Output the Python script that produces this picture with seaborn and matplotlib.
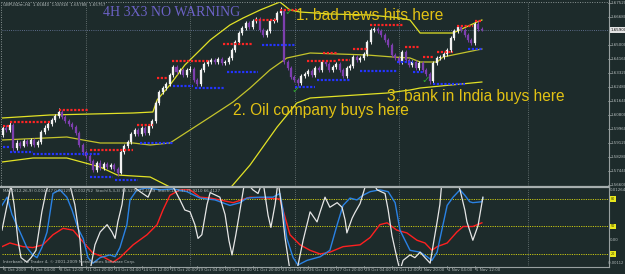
import numpy as np
import pandas as pd
import matplotlib
matplotlib.use("Agg")
import matplotlib.pyplot as plt
import matplotlib.transforms as mtransforms
from matplotlib.lines import Line2D
import seaborn as sns

# ---------------- data ----------------
first_open = 1.5960
closes = [1.6002, 1.5990, 1.6020, 1.5882, 1.5912, 1.5894, 1.5924, 1.5906, 1.5930, 1.5900,
          1.5918, 1.5978, 1.6002, 1.6026, 1.6050, 1.6074, 1.6098, 1.6068, 1.6044, 1.6026,
          1.6008, 1.5972, 1.5900, 1.5858, 1.5834, 1.5804, 1.5750, 1.5792, 1.5762, 1.5786,
          1.5768, 1.5780, 1.5756, 1.5732, 1.5858, 1.5894, 1.5918, 1.5966, 1.5990, 1.5966,
          1.6002, 1.5972, 1.6014, 1.6044, 1.6152, 1.6218, 1.6242, 1.6266, 1.6320, 1.6368,
          1.6338, 1.6350, 1.6320, 1.6350, 1.6356, 1.6290, 1.6266, 1.6350, 1.6386, 1.6398,
          1.6410, 1.6398, 1.6416, 1.6392, 1.6398, 1.6422, 1.6470, 1.6518, 1.6572, 1.6602,
          1.6632, 1.6608, 1.6644, 1.6656, 1.6590, 1.6560, 1.6584, 1.6644, 1.6650, 1.6692,
          1.6704, 1.6398, 1.6362, 1.6308, 1.6290, 1.6272, 1.6314, 1.6326, 1.6344, 1.6320,
          1.6362, 1.6350, 1.6398, 1.6386, 1.6350, 1.6368, 1.6386, 1.6350, 1.6314, 1.6362,
          1.6374, 1.6428, 1.6410, 1.6422, 1.6446, 1.6518, 1.6590, 1.6596, 1.6584, 1.6560,
          1.6530, 1.6500, 1.6440, 1.6422, 1.6398, 1.6458, 1.6410, 1.6380, 1.6398, 1.6362,
          1.6392, 1.6350, 1.6326, 1.6284, 1.6392, 1.6422, 1.6428, 1.6446, 1.6470, 1.6542,
          1.6584, 1.6608, 1.6590, 1.6560, 1.6530, 1.6512, 1.6626, 1.6596, 1.6590]
highs = [1.6020, 1.6020, 1.6038, 1.6032, 1.5930, 1.5924, 1.5936, 1.5936, 1.5942, 1.5942,
         1.5930, 1.5990, 1.6020, 1.6038, 1.6062, 1.6086, 1.6122, 1.6110, 1.6080, 1.6056,
         1.6038, 1.6020, 1.5984, 1.5912, 1.5870, 1.5846, 1.5816, 1.5804, 1.5810, 1.5798,
         1.5798, 1.5792, 1.5792, 1.5768, 1.5870, 1.5906, 1.5930, 1.5978, 1.6002, 1.6002,
         1.6014, 1.6014, 1.6026, 1.6056, 1.6164, 1.6230, 1.6254, 1.6278, 1.6332, 1.6380,
         1.6380, 1.6362, 1.6362, 1.6362, 1.6374, 1.6368, 1.6302, 1.6362, 1.6398, 1.6410,
         1.6422, 1.6422, 1.6428, 1.6428, 1.6410, 1.6434, 1.6482, 1.6530, 1.6584, 1.6614,
         1.6644, 1.6644, 1.6656, 1.6668, 1.6668, 1.6602, 1.6596, 1.6656, 1.6662, 1.6704,
         1.6728, 1.6716, 1.6410, 1.6374, 1.6320, 1.6302, 1.6326, 1.6338, 1.6356, 1.6356,
         1.6374, 1.6374, 1.6410, 1.6410, 1.6398, 1.6380, 1.6398, 1.6398, 1.6362, 1.6374,
         1.6386, 1.6440, 1.6440, 1.6434, 1.6458, 1.6530, 1.6602, 1.6608, 1.6608, 1.6596,
         1.6572, 1.6542, 1.6512, 1.6452, 1.6434, 1.6470, 1.6470, 1.6422, 1.6410, 1.6410,
         1.6404, 1.6404, 1.6362, 1.6338, 1.6404, 1.6434, 1.6440, 1.6458, 1.6482, 1.6554,
         1.6596, 1.6620, 1.6620, 1.6602, 1.6572, 1.6542, 1.6638, 1.6644, 1.6608]
lows = [1.5948, 1.5978, 1.5978, 1.5864, 1.5870, 1.5882, 1.5888, 1.5894, 1.5894, 1.5888,
        1.5888, 1.5906, 1.5966, 1.5990, 1.6014, 1.6038, 1.6062, 1.6056, 1.6032, 1.6014,
        1.5996, 1.5960, 1.5888, 1.5840, 1.5822, 1.5792, 1.5738, 1.5738, 1.5750, 1.5750,
        1.5756, 1.5756, 1.5744, 1.5714, 1.5726, 1.5846, 1.5882, 1.5906, 1.5954, 1.5954,
        1.5954, 1.5960, 1.5960, 1.6002, 1.6032, 1.6140, 1.6206, 1.6230, 1.6254, 1.6308,
        1.6326, 1.6326, 1.6308, 1.6308, 1.6338, 1.6278, 1.6254, 1.6254, 1.6338, 1.6374,
        1.6386, 1.6386, 1.6386, 1.6380, 1.6380, 1.6386, 1.6410, 1.6458, 1.6506, 1.6560,
        1.6590, 1.6596, 1.6596, 1.6632, 1.6578, 1.6548, 1.6548, 1.6572, 1.6632, 1.6638,
        1.6680, 1.6386, 1.6350, 1.6296, 1.6278, 1.6254, 1.6260, 1.6302, 1.6314, 1.6308,
        1.6308, 1.6338, 1.6338, 1.6374, 1.6338, 1.6338, 1.6356, 1.6338, 1.6302, 1.6302,
        1.6350, 1.6362, 1.6398, 1.6398, 1.6410, 1.6434, 1.6506, 1.6578, 1.6572, 1.6548,
        1.6518, 1.6488, 1.6428, 1.6410, 1.6386, 1.6386, 1.6398, 1.6368, 1.6368, 1.6350,
        1.6350, 1.6338, 1.6314, 1.6266, 1.6272, 1.6380, 1.6410, 1.6416, 1.6434, 1.6458,
        1.6530, 1.6572, 1.6578, 1.6548, 1.6518, 1.6500, 1.6500, 1.6584, 1.6584]

# resistance (red) and support (blue) levels: start bar, end bar, price
res_start = [0, 2, 16, 25, 38.6, 44.4, 48.7, 63.4, 72.6, 79.8, 87.6, 92.2, 96.5, 100.9, 105.8, 115.9, 121, 125, 130.8, 136]
res_end = [2, 13.5, 24.5, 37.5, 43.2, 47.3, 59.7, 72, 79, 84.7, 96.3, 96.3, 100, 104.9, 115.3, 120.2, 124, 129.7, 135.4, 138]
res_level = [1.6014, 1.6038, 1.6110, 1.5870, 1.6020, 1.6302, 1.6404, 1.6506, 1.6650, 1.6710, 1.6404, 1.6452, 1.6410,
             1.6476, 1.6620, 1.6488, 1.6428, 1.6458, 1.6614, 1.6644]
sup_start = [0, 2, 8.6, 25, 32.3, 39.5, 49, 55.3, 64.6, 74.6, 84.1, 90.5, 103, 113.5, 118.2, 124, 134]
sup_end = [2, 8.6, 28, 31.7, 38.9, 49, 54.8, 64, 73.5, 84.1, 90, 100, 113.5, 118.2, 121, 133.1, 138]
sup_level = [1.5888, 1.5858, 1.5846, 1.5708, 1.5690, 1.5912, 1.6254, 1.6242, 1.6338, 1.6500, 1.6248, 1.6290, 1.6344,
             1.6398, 1.6338, 1.6266, 1.6476]

# envelope bands (bar, price)
upper_x = [-0.3, 13.5, 37.5, 43.2, 44.4, 48.1, 52.4, 56.8, 59.7, 65.4, 69.2, 74.1, 79.8, 82.7, 85.6, 94.2, 105.8,
           114.4, 117.3, 120.2, 129.7, 136.6, 138.0]
upper_y = [1.6062, 1.6080, 1.6092, 1.6098, 1.6170, 1.6260, 1.6380, 1.6470, 1.6530, 1.6620, 1.6662, 1.6710, 1.6758,
           1.6710, 1.6698, 1.6686, 1.6680, 1.6662, 1.6650, 1.6572, 1.6572, 1.6638, 1.6650]
middle_x = [-0.3, 18.4, 23.1, 28.0, 37.5, 42.4, 48.1, 53.9, 59.7, 66.3, 71.2, 76.9, 81.8, 88.5, 104.9, 112.4, 117.3,
            120.2, 125.1, 126.8, 136.6, 138.0]
middle_y = [1.5930, 1.5948, 1.5930, 1.5912, 1.5912, 1.5900, 1.5912, 1.5990, 1.6068, 1.6158, 1.6242, 1.6350, 1.6422,
            1.6452, 1.6440, 1.6428, 1.6422, 1.6398, 1.6398, 1.6428, 1.6470, 1.6476]
lower_x = [-0.3, 8.6, 18.4, 28.0, 32.9, 42.4, 48.1, 52.4, 58.2, 62.5, 66.0, 71.2, 79.0, 84.7, 88.5, 110.7, 117.3,
           120.2, 138.0]
lower_y = [1.5798, 1.5822, 1.5822, 1.5768, 1.5720, 1.5708, 1.5648, 1.5588, 1.5558, 1.5588, 1.5654, 1.5780, 1.6008,
           1.6152, 1.6182, 1.6212, 1.6230, 1.6242, 1.6278]

# oscillator panel (bar, value)
white_x = [-0.3, 1.2, 2.3, 3.2, 4.3, 5.2, 6.9, 8.1, 9.5, 11.2, 12.4, 13.5, 16.4, 19.3, 20.7, 22.2, 22.8, 25.1, 26.5,
           28.0, 30.0, 31.4, 32.3, 33.1, 34.3, 35.2, 39.5, 41.8, 43.8, 48.1, 51.0, 52.4, 53.9, 55.3, 56.2, 57.3, 58.8,
           59.7, 62.5, 64.0, 65.1, 66.0, 67.1, 68.3, 69.7, 72.0, 73.5, 74.9, 76.4, 77.2, 78.4, 79.3, 80.4, 81.3, 82.7,
           84.7, 86.5, 88.5, 90.5, 91.4, 92.8, 94.2, 96.3, 97.7, 98.6, 99.1, 100.6, 101.4, 102.9, 104.9, 106.3, 107.8,
           110.1, 111.0, 112.1, 113.5, 114.4, 115.3, 117.3, 118.7, 120.2, 121.6, 123.1, 124.2, 125.1, 125.9, 126.5,
           128.0, 130.8, 131.7, 133.1, 133.7, 135.4, 136.9, 138.3]
white_v = [46, 74, 95, 74, 35, 16, 11, 16, 24, 66, 88, 100, 100, 95, 74, 35, 2, 2, 30,
           44, 52, 44, 37, 55, 74, 100, 88, 82, 100, 100, 79, 68, 66, 52, 37, 41, 74,
           87, 82, 63, 35, 19, 41, 68, 100, 90, 86, 100, 62, 49, 74, 100, 68, 37, 2,
           2, 35, 66, 55, 66, 82, 71, 76, 71, 57, 43, 59, 65, 75, 100, 100, 90,
           86, 68, 40, 16, 2, 13, 19, 16, 22, 16, 10, 35, 55, 74, 100,
           95, 100, 90, 68, 55, 35, 51, 82]
blue_x = [-0.3, 1.2, 2.6, 4.9, 6.9, 8.6, 9.8, 11.2, 12.7, 14.4, 16.4, 18.4, 19.9, 21.6, 23.1, 24.5, 25.9, 28.0, 30.8,
          32.3, 33.7, 35.7, 36.6, 38.6, 41.5, 45.2, 49.0, 53.0, 56.8, 61.1, 65.4, 68.3, 70.3, 74.1, 77.8, 79.8, 80.7,
          81.8, 83.6, 85.0, 87.6, 91.4, 94.2, 96.3, 98.0, 100.0, 102.0, 103.7, 105.8, 108.6, 111.0, 113.0, 114.4,
          117.3, 120.2, 122.2, 123.6, 125.1, 126.8, 128.0, 129.7, 131.7, 133.1, 134.5, 135.4, 138.0, 138.3]
blue_v = [73, 82, 63, 44, 27, 19, 16, 27, 44, 86, 90, 82, 68, 48, 37, 16, 10, 16, 19,
          17, 27, 52, 79, 90, 92, 90, 91, 88, 81, 79, 73, 76, 81, 82, 82, 86, 68,
          37, 16, 8, 13, 17, 24, 52, 73, 81, 79, 84, 88, 90, 88, 76, 46,
          24, 22, 17, 13, 22, 52, 73, 82, 90, 84, 77, 76, 77, 81]
red_x = [-0.3, 2.0, 5.8, 8.6, 11.5, 14.4, 17.3, 20.2, 23.1, 25.9, 28.8, 31.7, 33.7, 37.5, 41.5, 44.4, 46.1, 48.1,
         51.0, 53.9, 56.8, 59.7, 62.5, 66.3, 71.2, 76.1, 79.8, 80.7, 82.7, 85.6, 88.5, 91.4, 94.2, 98.0, 102.9,
         105.8, 108.6, 110.7, 113.5, 116.4, 119.3, 121.6, 123.6, 125.1, 128.0, 130.8, 132.6, 135.4, 138.0]
red_v = [28, 32, 28, 27, 30, 41, 48, 46, 33, 21, 17, 11, 16, 30, 41, 52, 68, 84,
         90, 90, 82, 81, 79, 76, 82, 81, 80, 68, 41, 30, 24, 20, 22, 28, 30,
         38, 52, 54, 46, 43, 35, 32, 24, 28, 32, 44, 50, 50, 54]
osc_levels = [80, 50, 20]

price_ticks = [1.6752, 1.6668, 1.6500, 1.6416, 1.6332, 1.6248, 1.6164, 1.6080, 1.5996, 1.5912, 1.5828, 1.5744, 1.5660]
bid_price = 1.6590
time_tick_bars = [0, 8, 16, 24, 32, 40, 48, 56, 64, 72, 80, 88, 96, 104, 112, 120, 128, 136]
time_labels = ["5 Oct 2009", "7 Oct 04:00", "8 Oct 12:00", "11 Oct 20:00", "13 Oct 04:00", "14 Oct 12:00",
               "15 Oct 20:00", "19 Oct 04:00", "20 Oct 12:00", "21 Oct 20:00", "23 Oct 04:00", "26 Oct 12:00",
               "27 Oct 20:00", "29 Oct 04:00", "30 Oct 12:00", "2 Nov 20:00", "4 Nov 04:00", "5 Nov 12:00"]
week_grid_bars = [23.9, 53.9, 84.1, 114.1, 151.3]
check_bars = [82.4, 84.4, 121.9]
check_prices = [1.6698, 1.6230, 1.6290]

# ---------------- figure ----------------
W, H = 625, 274
BG = '#1d2b2b'
GREY = '#b4bcbc'
fig = plt.figure(figsize=(6.25, 2.74), dpi=100, facecolor=BG)


def fx(px):
    return px / W


def fy(py):
    return 1 - py / H


ax = fig.add_axes([fx(2), fy(186), (608 - 2) / W, (186 - 2) / H])
ax2 = fig.add_axes([fx(2), fy(266), (608 - 2) / W, (266 - 188) / H])
XMIN, XMAX = -0.288, 174.35
for a in (ax, ax2):
    a.set_facecolor(BG)
    for s in a.spines.values():
        s.set_visible(False)

# grid / bid line
for g in week_grid_bars:
    ax.axvline(g, color='#738080', lw=0.6, ls=(0, (1, 1.6)), zorder=0)
    ax2.axvline(g, color='#738080', lw=0.6, ls=(0, (1, 1.6)), zorder=0)
ax.axhline(bid_price, color='#7080a8', lw=0.6, ls=(0, (1, 1.6)), zorder=0)

# bands
band_col = '#e2e226'
sns.lineplot(x=upper_x, y=upper_y, ax=ax, color=band_col, lw=0.9, sort=False, estimator=None, legend=False)
sns.lineplot(x=middle_x, y=middle_y, ax=ax, color='#c4c42c', lw=0.9, sort=False, estimator=None, legend=False)
sns.lineplot(x=lower_x, y=lower_y, ax=ax, color=band_col, lw=0.9, sort=False, estimator=None, legend=False)

# candles
opens = [first_open] + closes[:-1]
df = pd.DataFrame(dict(i=np.arange(len(closes)), o=opens, c=closes, h=highs, l=lows))
bull = df.c >= df.o
up_col, dn_col = '#f2f2f2', '#7d3fae'
cols = np.where(bull, up_col, dn_col)
ax.vlines(df.i, df.l, df.h, colors=cols, lw=0.7, zorder=3)
ax.bar(df.i, df.c - df.o, bottom=df.o, width=0.58, color=cols, edgecolor=cols, lw=0.2, zorder=4)

# support / resistance dots
ax.hlines(res_level, res_start, res_end, colors='#ff2424', lw=1.6, linestyles=[(0, (1, 0.7))], zorder=5)
ax.hlines(sup_level, sup_start, sup_end, colors='#2434ff', lw=1.6, linestyles=[(0, (1, 0.7))], zorder=5)

# check marks
for b, p in zip(check_bars, check_prices):
    ax.text(b, p, '\u2713', color='#2ea82e', fontsize=7.5, ha='center', va='center',
            fontweight='bold', family='DejaVu Sans', zorder=6)

ax.set_xlim(XMIN, XMAX)
ax.set_ylim(1.5654, 1.6758)
ax.set_xticks([]); ax.set_yticks([])
ax.set_xlabel(''); ax.set_ylabel('')

# oscillator panel
for lv in osc_levels:
    ax2.axhline(lv, color='#c8c814', lw=0.7, ls=(0, (1.2, 1.2)), zorder=1)
sns.lineplot(x=red_x, y=red_v, ax=ax2, color='#ff2020', lw=1.0, sort=False, estimator=None, legend=False)
sns.lineplot(x=blue_x, y=blue_v, ax=ax2, color='#2a82e4', lw=1.0, sort=False, estimator=None, legend=False)
sns.lineplot(x=white_x, y=white_v, ax=ax2, color='#e6e6e6', lw=0.9, sort=False, estimator=None, legend=False)
ax2.set_xlim(XMIN, XMAX)
ax2.set_ylim(6.9, 92.0)
ax2.set_xticks([]); ax2.set_yticks([])
ax2.set_xlabel(''); ax2.set_ylabel('')

# frame lines
fig.add_artist(Line2D([fx(1.5), fx(608)], [fy(2), fy(2)], color='#8a9494', lw=0.7, ls=(0, (1, 1.5))))
fig.add_artist(Line2D([fx(1.5), fx(1.5)], [fy(2), fy(186)], color='#8a9494', lw=0.7, ls=(0, (1, 1.5))))
fig.add_artist(Line2D([fx(0), fx(609)], [fy(186.8), fy(186.8)], color='#a6aeae', lw=1.6))
fig.add_artist(Line2D([fx(608.5), fx(608.5)], [fy(0), fy(266.5)], color='#98a0a0', lw=0.8))
fig.add_artist(Line2D([fx(0), fx(609)], [fy(266.5), fy(266.5)], color='#98a0a0', lw=0.8))

# right price labels
tr = mtransforms.blended_transform_factory(ax.transAxes, ax.transData)
for v in price_ticks:
    ax.plot([1.0, 1.005], [v, v], color='#98a0a0', lw=0.5, transform=tr, clip_on=False)
    ax.text(1.0035, v, f"{v:.5f}", transform=tr, color=GREY, fontsize=2.9, va='center', ha='left', clip_on=False)
ax.text(1.0035, bid_price, f"{bid_price:.5f}", transform=tr, color='#101010', fontsize=2.9, va='center',
        ha='left', clip_on=False, bbox=dict(fc='#e4e4e4', ec='none', pad=0.6))

tr2 = mtransforms.blended_transform_factory(ax2.transAxes, ax2.transData)
ax2.text(1.0035, 89.8, "0.01264", transform=tr2, color=GREY, fontsize=2.9, va='center', ha='left', clip_on=False)
ax2.text(1.0035, 35.3, "0.00", transform=tr2, color=GREY, fontsize=2.9, va='center', ha='left', clip_on=False)
for lv in osc_levels:
    ax2.text(1.0045, lv, str(lv), transform=tr2, color='#303000', fontsize=2.4, va='center', ha='left',
             clip_on=False, bbox=dict(fc='#e8e81c', ec='none', pad=0.5))
fig.text(fx(624.5), fy(263.5), "-0.00112", color=GREY, fontsize=2.6, va='center', ha='right')

# time labels
trx = mtransforms.blended_transform_factory(ax2.transData, ax2.transAxes)
for b, lab in zip(time_tick_bars, time_labels):
    ax2.plot([b, b], [0, -0.035], color='#98a0a0', lw=0.5, transform=trx, clip_on=False)
    ax2.text(b + 0.3, -0.055, lab, transform=trx, color=GREY, fontsize=2.9, va='center', ha='left',
             clip_on=False)

# texts
fig.text(fx(3), fy(5), "GBPUSDm,H4  1.65840  1.65918  1.65788  1.65757", color=GREY, fontsize=2.9,
         va='center', ha='left')
fig.text(fx(103), fy(13), "4H 3X3 NO WARNING", color='#6c62c6', fontsize=10, family='Liberation Serif',
         va='center', ha='left')
ann_col = '#e2c214'
fig.text(fx(296), fy(16), "1. bad news hits here", color=ann_col, fontsize=11.2, family='Liberation Sans',
         va='center', ha='left')
fig.text(fx(233), fy(110), "2. Oil company buys here", color=ann_col, fontsize=11.2, family='Liberation Sans',
         va='center', ha='left')
fig.text(fx(387), fy(96), "3. bank in India buys here", color=ann_col, fontsize=11.2, family='Liberation Sans',
         va='center', ha='left')
fig.text(fx(3), fy(190.5), "MACD(12,26,9) 0.004047 0.001295 0.002752  Stoch(5,3,3) 88.5278 72.4539  "
         "Stoch(14,3,3) 75.9210 66.4127", color=GREY, fontsize=2.9, va='center', ha='left')
fig.text(fx(3), fy(262), "Interbank FX Trader 4, \u00a9 2001-2009 MetaQuotes Software Corp.", color=GREY,
         fontsize=3.0, va='center', ha='left')

fig.savefig("out.png", dpi=100, facecolor=BG)
